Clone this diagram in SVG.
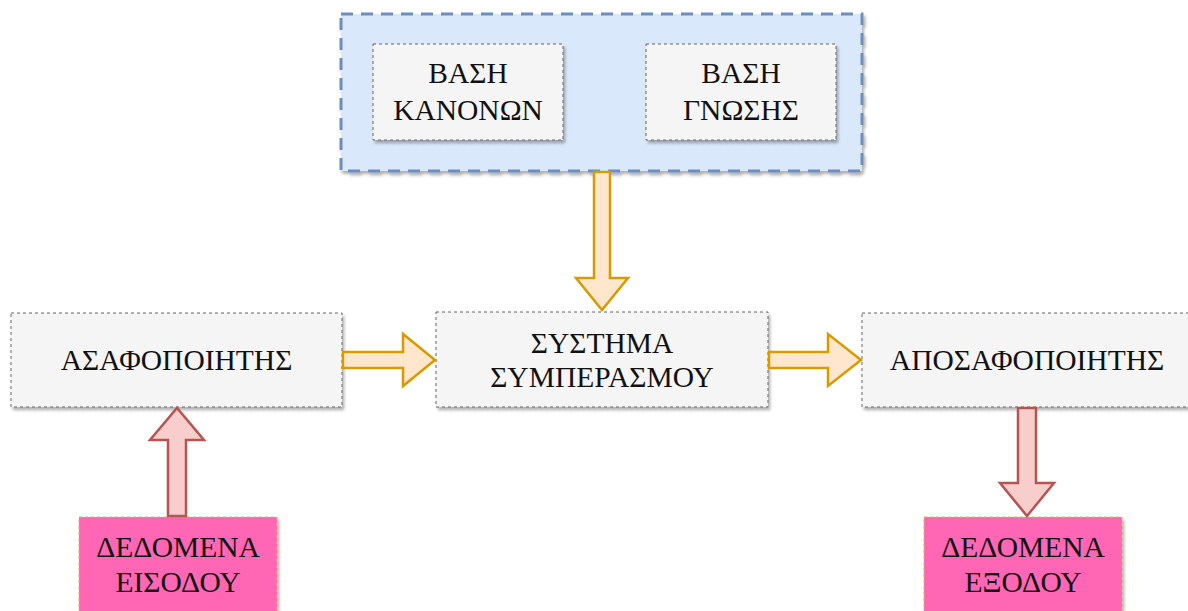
<svg xmlns="http://www.w3.org/2000/svg" width="1188" height="611" viewBox="0 0 1188 611">
<defs>
<filter id="sh" x="-5%" y="-5%" width="115%" height="125%">
<feDropShadow dx="2" dy="3" stdDeviation="1.5" flood-color="#000" flood-opacity="0.3"/>
</filter>
</defs>
<style>
.box{fill:#f5f5f5;stroke:#666;stroke-width:1;stroke-dasharray:3 3;filter:url(#sh)}
.pink{fill:#ff66b3;stroke:#d6b656;stroke-width:1;stroke-dasharray:3 3;filter:url(#sh)}
.cont{fill:#dae8fc;stroke:#6c8ebf;stroke-width:3;stroke-dasharray:12 8;filter:url(#sh)}
.oa{fill:#ffe6cc;stroke:#d79b00;stroke-width:2.5;stroke-linejoin:miter}
.ra{fill:#f8cecc;stroke:#b85450;stroke-width:2.5;stroke-linejoin:miter}
</style>
<rect width="1188" height="611" fill="#fff"/>
<g font-family="Liberation Serif, serif" font-size="29.5" fill="#111" text-anchor="middle">
<g id="knowledge-container">
<rect class="cont" x="341" y="14" width="521" height="157"/>
</g>
<g id="rule-base">
<rect class="box" x="373" y="44" width="190" height="96"/>
<text x="468" y="83">ΒΑΣΗ</text>
<text x="468" y="120">ΚΑΝΟΝΩΝ</text>
</g>
<g id="knowledge-base">
<rect class="box" x="646" y="44" width="190" height="96"/>
<text x="741" y="83">ΒΑΣΗ</text>
<text x="741" y="120">ΓΝΩΣΗΣ</text>
</g>
<g id="fuzzifier">
<rect class="box" x="11" y="313" width="331" height="94"/>
<text x="176.5" y="370">ΑΣΑΦΟΠΟΙΗΤΗΣ</text>
</g>
<g id="inference">
<rect class="box" x="436" y="312" width="332" height="95"/>
<text x="602" y="353">ΣΥΣΤΗΜΑ</text>
<text x="602" y="387">ΣΥΜΠΕΡΑΣΜΟΥ</text>
</g>
<g id="defuzzifier">
<rect class="box" x="862" y="313" width="331" height="94"/>
<text x="1027" y="370">ΑΠΟΣΑΦΟΠΟΙΗΤΗΣ</text>
</g>
<g id="input-data">
<rect class="pink" x="79" y="517" width="198" height="96"/>
<text x="178" y="557">ΔΕΔΟΜΕΝΑ</text>
<text x="178" y="592">ΕΙΣΟΔΟΥ</text>
</g>
<g id="output-data">
<rect class="pink" x="924" y="517" width="198" height="96"/>
<text x="1023" y="557">ΔΕΔΟΜΕΝΑ</text>
<text x="1023" y="592">ΕΞΟΔΟΥ</text>
</g>
</g>
<g id="connectors">
<polygon class="oa" points="594,172 610,172 610,278 628,278 602,310 576,278 594,278"/>
<polygon class="oa" points="343,352 403,352 403,334 435,360 403,386 403,368 343,368"/>
<polygon class="oa" points="769,352 828,352 828,334 861,360 828,386 828,368 769,368"/>
<polygon class="ra" points="168,516 168,440 150,440 177,408 204,440 186,440 186,516"/>
<polygon class="ra" points="1018,408 1036,408 1036,483 1054,483 1027,516 1000,483 1018,483"/>
</g>
</svg>
